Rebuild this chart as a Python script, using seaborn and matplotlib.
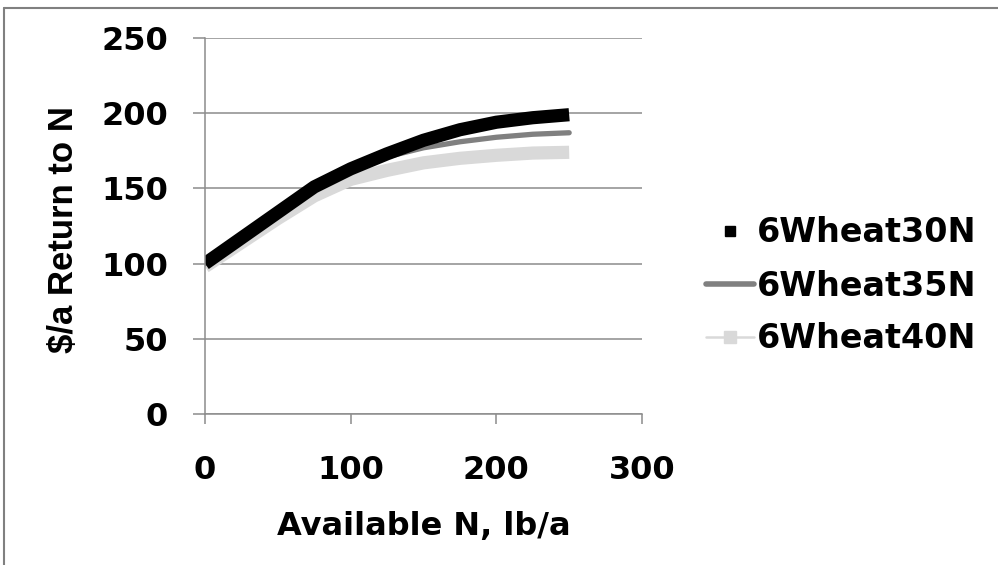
import matplotlib
matplotlib.use("Agg")
import matplotlib.pyplot as plt
from matplotlib.lines import Line2D
import seaborn as sns
import pandas as pd

# data
avail_n = [0, 25, 50, 75, 100, 125, 150, 175, 200, 225, 250]
wheat30 = [100, 117, 134, 151, 163, 173, 182, 189, 194, 197, 199]
wheat35 = [100, 117, 134, 151, 162, 171, 177, 181, 184, 186, 187]
wheat40 = [98, 114, 130, 145, 156, 162, 167, 170, 172, 173.5, 174]
series_names = ["6Wheat30N", "6Wheat35N", "6Wheat40N"]

df = pd.DataFrame({"N": avail_n, "6Wheat30N": wheat30,
                   "6Wheat35N": wheat35, "6Wheat40N": wheat40})

sns.set_theme(style="white")
plt.rcParams["font.family"] = ["DejaVu Sans"]
plt.rcParams["font.weight"] = "bold"
for k in ["text.color", "axes.labelcolor", "xtick.labelcolor", "ytick.labelcolor"]:
    plt.rcParams[k] = "black"

fig = plt.figure(figsize=(9.98, 5.65), dpi=100)
ax = fig.add_axes([205 / 998, 1 - 414 / 565, 437 / 998, 376 / 565])

sns.lineplot(data=df, x="N", y="6Wheat40N", ax=ax, color="#d9d9d9",
             linewidth=9.5, solid_capstyle="butt")
sns.lineplot(data=df, x="N", y="6Wheat35N", ax=ax, color="#808080",
             linewidth=3.8, solid_capstyle="round")
sns.lineplot(data=df, x="N", y="6Wheat30N", ax=ax, color="black",
             linewidth=9.5, solid_capstyle="butt")

ax.set_xlim(0, 300)
ax.set_ylim(0, 250)
ax.set_xticks([0, 100, 200, 300])
ax.set_yticks([0, 50, 100, 150, 200, 250])
ax.yaxis.grid(True, color="#8c8c8c", linewidth=1.1)
ax.xaxis.grid(False)
for s in ["top", "right"]:
    ax.spines[s].set_visible(False)
for s in ["left", "bottom"]:
    ax.spines[s].set_color("#8c8c8c")
    ax.spines[s].set_linewidth(1.1)
ax.tick_params(axis="y", length=8.6, width=1.1, color="#8c8c8c", pad=18,
               labelsize=23, left=True)
ax.tick_params(axis="x", length=7.5, width=1.1, color="#8c8c8c", pad=22,
               labelsize=23, bottom=True)
for t in ax.get_xticklabels() + ax.get_yticklabels():
    t.set_fontweight("bold")

ax.set_xlabel("Available N, lb/a", fontsize=23, fontweight="bold", labelpad=18)
ax.set_ylabel("$/a Return to N", fontsize=25, fontweight="bold",
              family="Liberation Sans")
ax.yaxis.set_label_coords(-0.285, 0.49)

handles = [
    Line2D([], [], color="black", linestyle="none", marker="s", markersize=7),
    Line2D([], [], color="#808080", linewidth=4, solid_capstyle="round"),
    Line2D([], [], color="#d9d9d9", linewidth=1.8, marker="s", markersize=9),
]
leg = fig.legend(handles, series_names, loc="center left",
                 bbox_to_anchor=(706 / 998, 1 - 286 / 565), frameon=False,
                 fontsize=24, handlelength=1.45, handletextpad=0.08,
                 labelspacing=0.6, borderaxespad=0, borderpad=0)
for t in leg.get_texts():
    t.set_fontweight("bold")

# outer chart border (top and left edges visible)
fig.add_artist(Line2D([4 / 998, 1], [1 - 8 / 565, 1 - 8 / 565],
                      color="#808080", linewidth=1.5, transform=fig.transFigure))
fig.add_artist(Line2D([4 / 998, 4 / 998], [0, 1 - 8 / 565],
                      color="#808080", linewidth=1.5, transform=fig.transFigure))

fig.savefig("out.png", dpi=100)
